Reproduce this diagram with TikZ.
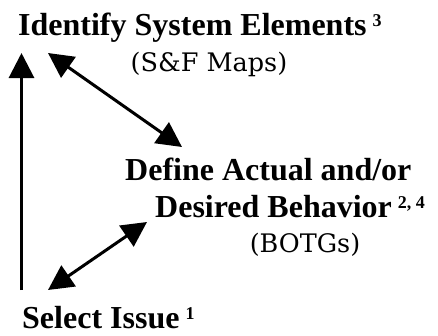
\documentclass[tikz,border=0pt]{standalone}
\usepackage{fontspec}
\setmainfont{Liberation Serif}
\newfontfamily\regfont{DejaVu Serif}
\usetikzlibrary{arrows.meta}
\newcommand\supnum[1]{\hspace{6pt}\raisebox{9pt}{\fontsize{18}{18}\selectfont #1}}
\begin{document}
\begin{tikzpicture}[x=1pt,y=-1pt,
  boldtext/.style={inner sep=0pt, anchor=base west, font=\fontsize{32}{37}\selectfont\bfseries},
  subtext/.style={inner sep=0pt, anchor=base, font=\fontsize{25.5}{30}\selectfont\regfont},
  conn/.style={line width=3pt, -{Triangle[length=25pt,width=25pt]}},
  dconn/.style={line width=3pt, {Triangle[length=25pt,width=25pt]}-{Triangle[length=25pt,width=25pt]}}]
\useasboundingbox (0,0) rectangle (438,335);
\node[boldtext] (ident) at (18,35) {Identify System Elements\supnum{3}};
\node[subtext] (maps) at (209,71) {(S\&F Maps)};
\node[boldtext] (def1) at (125,180) {Define Actual and/or};
\node[boldtext] (def2) at (155,217) {Desired Behavior\supnum{2, 4}};
\node[subtext] (botg) at (305,252) {(BOTGs)};
\node[boldtext] (sel) at (22,328) {Select Issue\supnum{1}};
\coordinate (v0) at (21.5,290);
\coordinate (v1) at (21.5,53);
\coordinate (a1) at (48,53);
\coordinate (b1) at (182,147);
\coordinate (a2) at (48,290);
\coordinate (b2) at (147,222);
\draw[conn] (v0) -- (v1);
\draw[dconn] (a1) -- (b1);
\draw[dconn] (a2) -- (b2);
\end{tikzpicture}
\end{document}
